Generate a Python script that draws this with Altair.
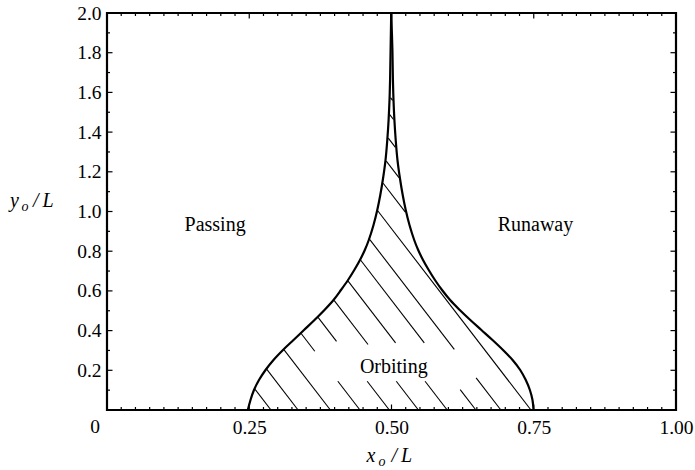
import altair as alt
import numpy as np
import pandas as pd

# Boundary of the orbiting region, in units of L (left edge, then right edge)
left_x = [0.2475, 0.2522, 0.2583, 0.2671, 0.2786, 0.2926, 0.3093, 0.3278,
          0.3462, 0.3647, 0.3822, 0.3981, 0.4112, 0.4236, 0.4346, 0.4446,
          0.4531, 0.4601, 0.4684, 0.4750, 0.4803, 0.4847, 0.4895, 0.4926,
          0.4949, 0.4965, 0.4975, 0.4984, 0.4995]
left_y = [0.0000, 0.0504, 0.1008, 0.1511, 0.2015, 0.2519, 0.3023, 0.3526,
          0.4030, 0.4534, 0.5038, 0.5542, 0.6045, 0.6549, 0.7053, 0.7557,
          0.8060, 0.8564, 0.9320, 1.0076, 1.0831, 1.1587, 1.2594, 1.3602,
          1.4610, 1.5617, 1.6625, 1.8136, 2.0000]
right_x = [0.7496, 0.7478, 0.7432, 0.7360, 0.7262, 0.7128, 0.6960, 0.6775,
           0.6580, 0.6385, 0.6200, 0.6030, 0.5888, 0.5764, 0.5654, 0.5554,
           0.5469, 0.5399, 0.5316, 0.5250, 0.5197, 0.5153, 0.5105, 0.5074,
           0.5051, 0.5035, 0.5025, 0.5016, 0.4995]
right_y = left_y

# Hatch lines: where each would meet y = 0, their common slope,
# and the stretch of each line left open around the "Orbiting" label
hatch_x0 = [0.2882, 0.3358, 0.3926, 0.4446, 0.4962, 0.5473, 0.5979, 0.6483,
            0.6922, 0.7451, 0.7918, 0.8273, 0.8618, 0.8962, 0.9204]
HATCH_SLOPE = 3.727
gap_top = [None, None, None, 0.296, 0.346, 0.330, 0.338, 0.338, 0.305,
           None, None, None, None, None, None]
gap_bottom = [None, None, None, 0.145, 0.145, 0.145, 0.145, 0.103, 0.162,
              None, None, None, None, None, None]

# Region names and their positions
region_names = ["Passing", "Runaway", "Orbiting"]
region_x = [0.190, 0.753, 0.504]
region_y = [0.902, 0.902, 0.188]

# Axis ticks
x_label_values = [0.25, 0.50, 0.75, 1.00]
y_label_values = [0.2, 0.4, 0.6, 0.8, 1.0, 1.2, 1.4, 1.6, 1.8, 2.0]
x_major = [0.25, 0.50, 0.75]
x_minor = [round(v, 3) for v in np.arange(0.025, 1.0, 0.025) if round(v, 3) not in x_major]
y_major = [0.2, 0.4, 0.6, 0.8, 1.0, 1.2, 1.4, 1.6, 1.8]
y_minor = [0.1, 0.3, 0.5, 0.7, 0.9, 1.1, 1.3, 1.5, 1.7, 1.9]

W, H = 569, 397
FONT = "Liberation Serif"
MAJOR, MINOR = 5.5, 3.0

xs = alt.Scale(domain=[0, 1], nice=False, zero=False)
ys_ = alt.Scale(domain=[0, 2], nice=False, zero=False)
x_axis = alt.Axis(values=x_label_values, format=".2f", title=None, ticks=False,
                  domain=False, grid=False, labelFont=FONT, labelFontSize=19.5,
                  labelColor="black", labelPadding=8, labelFlush=False)
y_axis = alt.Axis(values=y_label_values, format=".1f", title=None, ticks=False,
                  domain=False, grid=False, labelFont=FONT, labelFontSize=19.5,
                  labelColor="black", labelPadding=6, labelFlush=False)


def X(field):
    return alt.X(field, scale=xs, axis=x_axis)


def Y(field):
    return alt.Y(field, scale=ys_, axis=y_axis)


def catmull_rom(px, py, n=40, alpha=0.5):
    """Centripetal Catmull-Rom through the points, as the line mark draws it."""
    p = np.column_stack([px, py]).astype(float)
    p = np.vstack([p[0], p, p[-1]])
    out = []
    for i in range(1, len(p) - 2):
        p0, p1, p2, p3 = p[i - 1], p[i], p[i + 1], p[i + 2]
        t0 = 0.0
        t1 = t0 + max(np.linalg.norm(p1 - p0) ** alpha, 1e-9)
        t2 = t1 + max(np.linalg.norm(p2 - p1) ** alpha, 1e-9)
        t3 = t2 + max(np.linalg.norm(p3 - p2) ** alpha, 1e-9)
        for t in np.linspace(t1, t2, n, endpoint=False):
            a1 = (t1 - t) / (t1 - t0) * p0 + (t - t0) / (t1 - t0) * p1
            a2 = (t2 - t) / (t2 - t1) * p1 + (t - t1) / (t2 - t1) * p2
            a3 = (t3 - t) / (t3 - t2) * p2 + (t - t2) / (t3 - t2) * p3
            b1 = (t2 - t) / (t2 - t0) * a1 + (t - t0) / (t2 - t0) * a2
            b2 = (t3 - t) / (t3 - t1) * a2 + (t - t1) / (t3 - t1) * a3
            out.append((t2 - t) / (t2 - t1) * b1 + (t - t1) / (t2 - t1) * b2)
    out.append(p[-1])
    return np.array(out)


# Clip each hatch line to the region between the two boundaries.
# Work in pixel units so the clip follows the smoothed drawn line.
sx, sy = W / 1.0, H / 2.0
lc = catmull_rom(np.array(left_x) * sx, np.array(left_y) * sy)
rc = catmull_rom(np.array(right_x) * sx, np.array(right_y) * sy)
yy = np.linspace(0, 2, 8001)
L = np.interp(yy * sy, lc[:, 1], lc[:, 0]) / sx
R = np.interp(yy * sy, rc[:, 1], rc[:, 0]) / sx
segs = []
for i, x0 in enumerate(hatch_x0):
    xl = x0 - yy / HATCH_SLOPE
    inside = (xl >= L + 0.0015) & (xl <= R - 0.0015)
    if gap_top[i] is not None:
        inside &= ~((yy > gap_bottom[i]) & (yy < gap_top[i]))
    edges = np.flatnonzero(np.diff(np.concatenate([[0], inside.astype(int), [0]])))
    for a, b in zip(edges[::2], edges[1::2] - 1):
        if b - a > 4:
            segs.append(dict(x=xl[a], y=yy[a], x2=xl[b], y2=yy[b]))
hatch_df = pd.DataFrame(segs)

hatch = alt.Chart(hatch_df).mark_rule(color="black", strokeWidth=1.1).encode(
    x=X("x:Q"), y=Y("y:Q"), x2="x2:Q", y2="y2:Q",
)

left_line = alt.Chart(pd.DataFrame({"x": left_x, "y": left_y, "o": range(len(left_x))})).mark_line(
    color="black", strokeWidth=2.2, interpolate="catmull-rom"
).encode(x=X("x:Q"), y=Y("y:Q"), order="o:Q")

right_line = alt.Chart(pd.DataFrame({"x": right_x, "y": right_y, "o": range(len(right_x))})).mark_line(
    color="black", strokeWidth=2.2, interpolate="catmull-rom"
).encode(x=X("x:Q"), y=Y("y:Q"), order="o:Q")

regions = alt.Chart(pd.DataFrame({"t": region_names, "x": region_x, "y": region_y})).mark_text(
    font=FONT, fontSize=20, color="black", align="center", baseline="alphabetic"
).encode(x=X("x:Q"), y=Y("y:Q"), text="t:N")

# Origin label sits just left of the corner
origin = alt.Chart(pd.DataFrame({"x": [0.0], "y": [0.0], "t": ["0"]})).mark_text(
    font=FONT, fontSize=19.5, color="black", align="center", baseline="top", dx=-12, dy=8
).encode(x=X("x:Q"), y=Y("y:Q"), text="t:N")


def xticks(vals, length):
    d = pd.DataFrame({"x": vals})
    base = alt.Chart(d).mark_rule(color="black", strokeWidth=1.2)
    bottom = base.encode(x=X("x:Q"), y=alt.value(H), y2=alt.value(H - length))
    top = base.encode(x=X("x:Q"), y=alt.value(0), y2=alt.value(length))
    return [bottom, top]


def yticks(vals, length):
    d = pd.DataFrame({"y": vals})
    base = alt.Chart(d).mark_rule(color="black", strokeWidth=1.2)
    left = base.encode(y=Y("y:Q"), x=alt.value(0), x2=alt.value(length))
    right = base.encode(y=Y("y:Q"), x=alt.value(W), x2=alt.value(W - length))
    return [left, right]


def label(text, px, py, size=20, italic=True):
    return alt.Chart(pd.DataFrame({"t": [text]})).mark_text(
        font=FONT, fontSize=size, fontStyle="italic" if italic else "normal",
        color="black", align="left", baseline="alphabetic"
    ).encode(x=alt.value(px), y=alt.value(py), text="t:N")


# Axis titles y_o/L and x_o/L (plot-relative pixel offsets)
titles = [
    label("y", 10 - 107, 206.7 - 13),
    label("o", 21.5 - 107, 210.5 - 13, size=14),
    label("/", 33 - 107, 206.7 - 13),
    label("L", 42.5 - 107, 206.7 - 13),
    label("x", 366.5 - 107, 461.7 - 13),
    label("o", 378.5 - 107, 465.5 - 13, size=14),
    label("/", 391.5 - 107, 461.7 - 13),
    label("L", 401 - 107, 461.7 - 13),
]

layers = ([hatch, left_line, right_line, regions, origin]
          + xticks(x_major, MAJOR) + xticks(x_minor, MINOR)
          + yticks(y_major, MAJOR) + yticks(y_minor, MINOR)
          + titles)

chart = alt.layer(*layers).properties(
    width=W, height=H,
    autosize=alt.AutoSizeParams(type="none"),
    padding={"left": 107, "top": 13, "right": 695 - 107 - W, "bottom": 470 - 13 - H},
    background="white",
).configure_view(stroke="black", strokeWidth=2.2)

chart.save("out.html", embed_options={"renderer": "svg", "actions": False})
